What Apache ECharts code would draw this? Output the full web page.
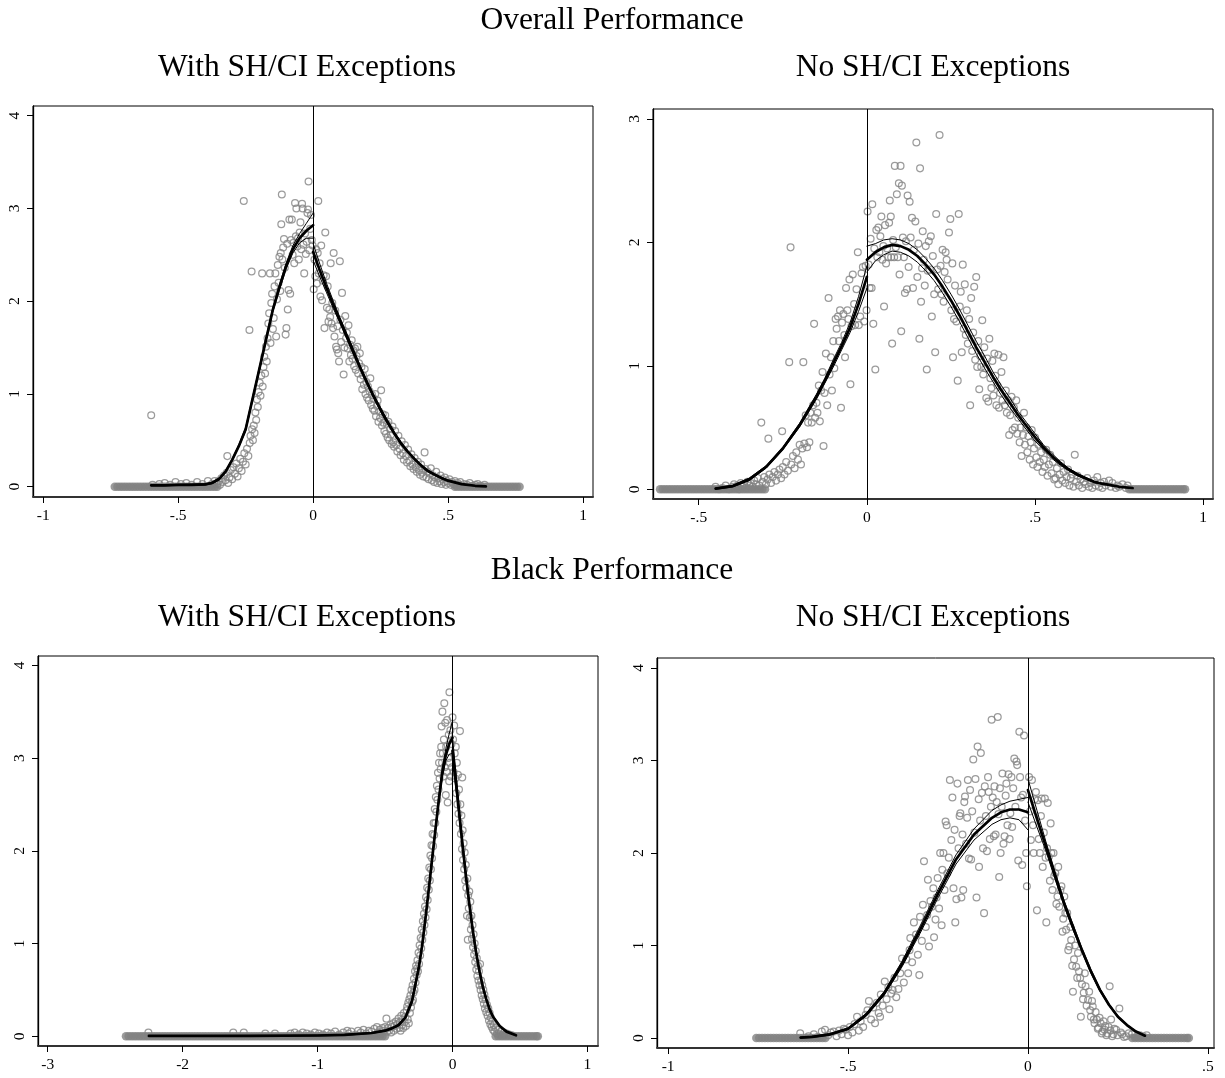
<!DOCTYPE html>
<html>
<head>
<meta charset="utf-8">
<script src="https://cdn.jsdelivr.net/npm/echarts@6/dist/echarts.min.js"></script>
<style>
html,body{margin:0;padding:0;background:#fff}
#chart{width:1225px;height:1078px}
</style>
</head>
<body>
<div id="chart"></div>
<script>
// ---------- Overall performance, with SH/CI exceptions ----------
const p1Zero = [-0.735,-0.725,-0.715,-0.705,-0.695,-0.685,-0.675,-0.665,-0.655,-0.645,-0.635,-0.625,-0.615,-0.605,-0.595,-0.585,-0.575,-0.565,-0.555,-0.545,-0.535,-0.525,-0.515,-0.505,-0.495,-0.485,-0.475,-0.465,-0.455,-0.445,-0.435,-0.425,-0.415,-0.405,-0.395,-0.385,-0.375,-0.365,-0.355,
  0.525,0.535,0.545,0.555,0.565,0.575,0.585,0.595,0.605,0.615,0.625,0.635,0.645,0.655,0.665,0.675,0.685,0.695,0.705,0.715,0.725,0.735,0.745,0.755,0.765];
const p1Bins = [
  [-0.6,0.77],[-0.595,0.02],[-0.57,0.03],[-0.55,0.04],[-0.53,0.02],[-0.51,0.05],[-0.49,0.03],[-0.47,0.04],[-0.45,0.02],[-0.43,0.05],[-0.41,0.03],[-0.39,0.06],[-0.375,0.03],[-0.365,0.06],[-0.355,0.03],[-0.35,0.06],[-0.345,0.02],[-0.34,0.09],[-0.335,0.05],[-0.33,0.12],[-0.325,0.07],[-0.32,0.15],[-0.318,0.33],[-0.315,0.04],[-0.31,0.1],[-0.305,0.18],[-0.3,0.08],[-0.295,0.21],[-0.29,0.14],[-0.285,0.25],[-0.28,0.11],[-0.275,0.2],[-0.27,0.3],[-0.265,0.17],[-0.26,0.27],[-0.257,3.08],[-0.255,0.36],[-0.25,0.24],[-0.245,0.41],[-0.24,0.33],[-0.236,1.69],[-0.235,0.47],[-0.232,0.55],[-0.228,2.32],[-0.226,0.62],[-0.223,0.5],[-0.22,0.66],[-0.217,0.58],[-0.214,0.8],[-0.211,0.72],[-0.208,0.94],[-0.205,0.86],[-0.202,1.02],[-0.198,1.12],[-0.195,0.98],[-0.192,1.2],[-0.189,2.3],[-0.187,1.08],[-0.184,1.29],[-0.181,1.4],[-0.178,1.22],[-0.175,1.51],[-0.172,1.35],[-0.169,1.6],[-0.166,1.76],[-0.163,1.87],[-0.16,2.3],[-0.158,1.55],[-0.155,1.98],[-0.152,2.08],[-0.149,1.7],[-0.146,1.82],[-0.143,2.16],[-0.14,2.3],[-0.137,1.62],[-0.134,2.02],[-0.131,2.39],[-0.128,2.2],[-0.125,2.48],[-0.122,2.11],[-0.12,2.52],[-0.118,2.83],[-0.116,3.15],[-0.114,2.45],[-0.111,2.58],[-0.108,2.67],[-0.105,2.36],[-0.102,1.64],[-0.099,1.71],[-0.096,2.62],[-0.094,1.91],[-0.091,2.12],[-0.088,2.88],[-0.085,2.08],[-0.082,2.66],[-0.079,2.88],[-0.076,2.5],[-0.073,2.63],[-0.07,2.41],[-0.067,3.06],[-0.064,2.7],[-0.062,3.0],[-0.059,2.59],[-0.056,2.68],[-0.053,2.45],[-0.05,2.74],[-0.047,2.85],[-0.044,2.56],[-0.041,3.05],[-0.039,3.0],[-0.036,2.61],[-0.033,2.3],[-0.03,2.73],[-0.027,2.51],[-0.024,2.64],[-0.021,2.95],[-0.019,2.99],[-0.017,3.29],[-0.014,2.55],[-0.011,2.78],[-0.008,2.93],[-0.005,2.66],[-0.002,2.6],
  [0.002,2.13],[0.005,2.45],[0.008,2.27],[0.011,2.56],[0.014,2.19],[0.017,2.52],[0.019,3.08],[0.021,2.3],[0.024,2.41],[0.027,2.05],[0.03,2.6],[0.033,2.01],[0.036,2.22],[0.039,2.28],[0.042,1.71],[0.045,2.74],[0.048,2.27],[0.051,1.93],[0.054,2.16],[0.057,1.78],[0.06,1.91],[0.063,1.83],[0.065,2.41],[0.068,1.76],[0.071,1.98],[0.074,1.71],[0.076,2.52],[0.079,1.62],[0.082,1.9],[0.085,1.51],[0.088,1.48],[0.09,1.73],[0.093,1.44],[0.096,1.35],[0.099,2.43],
  [0.101,1.8],[0.104,1.56],[0.107,2.09],[0.11,1.69],[0.113,1.21],[0.116,1.5],[0.119,1.84],[0.122,1.6],[0.125,1.66],[0.128,1.49],[0.131,1.74],[0.134,1.35],[0.137,1.53],[0.14,1.42],[0.143,1.58],[0.146,1.38],[0.149,1.47],[0.152,1.3],[0.155,1.49],[0.158,1.26],[0.161,1.41],[0.164,1.51],[0.167,1.22],[0.17,1.33],[0.173,1.44],[0.176,1.16],[0.179,1.29],[0.182,1.05],[0.185,1.2],[0.188,1.1],[0.191,1.27],[0.194,1.0],[0.197,1.13],[0.2,0.96],[0.203,1.08],[0.206,0.93],[0.209,1.03],[0.212,1.17],[0.215,0.88],[0.218,0.99],[0.221,0.84],[0.224,0.95],[0.227,0.82],[0.23,1.0],[0.233,0.76],[0.236,0.87],[0.239,0.93],[0.242,0.7],[0.245,0.81],[0.248,0.74],[0.252,1.04],[0.255,0.66],[0.258,0.78],[0.261,0.69],[0.264,0.6],[0.267,0.77],[0.27,0.57],[0.273,0.68],[0.276,0.53],[0.279,0.7],[0.282,0.5],[0.285,0.62],[0.288,0.56],[0.291,0.46],[0.294,0.65],[0.297,0.48],[0.3,0.43],[0.304,0.6],[0.308,0.45],[0.312,0.38],[0.316,0.55],[0.32,0.41],[0.324,0.34],[0.328,0.49],[0.332,0.36],[0.336,0.29],[0.34,0.45],[0.344,0.33],[0.348,0.26],[0.352,0.4],[0.356,0.28],[0.36,0.22],[0.364,0.35],[0.368,0.24],[0.372,0.19],[0.376,0.31],[0.38,0.21],[0.384,0.16],[0.388,0.27],[0.392,0.18],[0.396,0.13],[0.4,0.24],[0.404,0.15],[0.408,0.11],[0.413,0.37],[0.416,0.19],[0.42,0.1],[0.424,0.16],[0.428,0.08],[0.432,0.14],[0.436,0.2],[0.44,0.07],[0.444,0.12],[0.448,0.05],[0.452,0.1],[0.456,0.16],[0.46,0.04],[0.464,0.09],[0.468,0.06],[0.472,0.12],[0.476,0.03],[0.48,0.08],[0.484,0.05],[0.488,0.1],[0.492,0.02],[0.496,0.06],[0.5,0.04],[0.505,0.08],[0.51,0.02],[0.515,0.05],[0.52,0.03],[0.525,0.06],[0.53,0.01],[0.535,0.04],[0.54,0.02],[0.545,0.05],[0.55,0.01],[0.56,0.03],[0.57,0.02],[0.58,0.04],[0.59,0.01],[0.6,0.02],[0.61,0.03],[0.62,0.01],[0.635,0.02]
];
// fitted density rows: [x, estimate, lower bound, upper bound]
const p1FitLeft = [
  [-0.6,0.015,0.01,0.02],[-0.55,0.015,0.01,0.02],[-0.5,0.02,0.015,0.025],[-0.45,0.02,0.015,0.028],[-0.4,0.025,0.018,0.032],[-0.375,0.04,0.032,0.048],[-0.35,0.08,0.07,0.09],[-0.325,0.16,0.15,0.17],[-0.3,0.29,0.28,0.3],[-0.275,0.44,0.43,0.455],[-0.25,0.62,0.6,0.64],[-0.225,0.94,0.92,0.96],[-0.2,1.26,1.24,1.28],[-0.175,1.58,1.56,1.6],[-0.15,1.9,1.88,1.92],[-0.125,2.15,2.12,2.18],[-0.1,2.38,2.35,2.41],[-0.075,2.56,2.52,2.6],[-0.05,2.68,2.63,2.73],[-0.025,2.76,2.68,2.84],[0,2.82,2.68,2.95]
];
const p1FitRight = [
  [0,2.53,2.44,2.62],[0.025,2.33,2.26,2.4],[0.05,2.14,2.09,2.19],[0.075,1.96,1.92,2.0],[0.1,1.79,1.76,1.82],[0.125,1.62,1.59,1.65],[0.15,1.45,1.42,1.48],[0.175,1.28,1.26,1.3],[0.2,1.12,1.1,1.14],[0.225,0.97,0.95,0.99],[0.25,0.83,0.81,0.85],[0.275,0.7,0.68,0.72],[0.3,0.58,0.565,0.595],[0.325,0.47,0.455,0.485],[0.35,0.38,0.37,0.39],[0.375,0.3,0.29,0.31],[0.4,0.23,0.22,0.24],[0.425,0.17,0.16,0.18],[0.45,0.13,0.12,0.14],[0.475,0.095,0.088,0.102],[0.5,0.065,0.06,0.07],[0.55,0.028,0.025,0.031],[0.6,0.01,0.008,0.012],[0.64,0.004,0.003,0.005]
];
const p1XTicks = [-1,-0.5,0,0.5,1];
const p1YTicks = [0,1,2,3,4];

// ---------- Overall performance, no SH/CI exceptions ----------
const p2Zero = [-0.615,-0.607,-0.599,-0.591,-0.583,-0.575,-0.567,-0.559,-0.551,-0.543,-0.535,-0.527,-0.519,-0.511,-0.503,-0.495,-0.487,-0.479,-0.471,-0.463,-0.455,-0.447,-0.439,-0.431,-0.423,-0.415,-0.407,-0.399,-0.391,-0.383,-0.375,-0.367,-0.359,-0.351,-0.343,-0.335,-0.327,-0.319,-0.311,-0.303,
  0.78,0.788,0.796,0.804,0.812,0.82,0.828,0.836,0.844,0.852,0.86,0.868,0.876,0.884,0.892,0.9,0.908,0.916,0.924,0.932,0.94,0.946];
const p2Bins = [
  [-0.45,0.02],[-0.44,0.0],[-0.43,0.01],[-0.42,0.03],[-0.41,0.0],[-0.4,0.02],[-0.395,0.04],[-0.39,0.01],[-0.385,0.03],[-0.38,0.0],[-0.375,0.05],[-0.37,0.02],[-0.365,0.04],[-0.36,0.01],[-0.355,0.06],[-0.35,0.03],[-0.345,0.05],[-0.34,0.02],[-0.335,0.07],[-0.33,0.04],[-0.325,0.09],[-0.32,0.03],[-0.314,0.54],[-0.31,0.06],[-0.305,0.1],[-0.3,0.04],[-0.295,0.08],[-0.293,0.41],[-0.29,0.12],[-0.285,0.05],[-0.28,0.1],[-0.275,0.14],[-0.27,0.07],[-0.265,0.12],[-0.26,0.16],[-0.255,0.09],[-0.252,0.47],[-0.25,0.18],[-0.245,0.12],[-0.24,0.22],[-0.235,0.15],[-0.231,1.03],[-0.227,1.96],[-0.225,0.2],[-0.22,0.27],[-0.215,0.17],[-0.21,0.3],[-0.205,0.24],[-0.2,0.36],[-0.196,0.2],[-0.192,0.33],[-0.189,1.03],[-0.186,0.37],[-0.182,0.6],[-0.178,0.34],[-0.175,0.54],[-0.171,0.38],[-0.168,0.62],[-0.164,0.54],[-0.16,0.68],[-0.157,1.34],[-0.154,0.58],[-0.15,0.7],[-0.147,0.62],[-0.143,0.84],[-0.14,0.55],[-0.136,0.8],[-0.132,0.95],[-0.129,0.35],[-0.126,0.78],[-0.122,1.1],[-0.118,0.68],[-0.114,1.55],[-0.111,0.93],[-0.107,1.07],[-0.104,0.8],[-0.1,1.2],[-0.097,0.98],[-0.093,1.38],[-0.09,1.3],[-0.086,1.4],[-0.083,1.2],[-0.08,1.45],[-0.077,0.66],[-0.074,1.35],[-0.07,1.42],[-0.067,1.25],[-0.065,1.07],[-0.062,1.63],[-0.058,1.45],[-0.055,1.38],[-0.052,1.7],[-0.049,0.85],[-0.046,1.32],[-0.042,1.74],[-0.038,1.5],[-0.035,1.33],[-0.031,1.62],[-0.027,1.92],[-0.024,1.33],[-0.02,1.4],[-0.016,1.75],[-0.012,1.8],[-0.008,1.36],[-0.004,1.81],[-0.001,1.45],
  [0.002,2.25],[0.005,1.82],[0.008,1.63],[0.011,2.03],[0.014,1.63],[0.016,2.31],[0.019,1.34],[0.022,1.95],[0.025,0.97],[0.028,2.1],[0.031,1.88],[0.034,2.12],[0.037,1.92],[0.04,2.05],[0.043,2.21],[0.046,1.86],[0.049,1.97],[0.051,1.48],[0.054,2.14],[0.057,1.83],[0.06,1.95],[0.063,1.88],[0.066,2.16],[0.068,2.34],[0.071,2.21],[0.072,1.88],[0.075,1.18],[0.078,2.02],[0.081,1.88],[0.083,2.62],[0.086,1.96],[0.089,2.39],[0.092,1.88],[0.095,2.48],[0.097,1.74],[0.1,2.62],[0.102,1.28],[0.104,2.46],[0.107,2.04],[0.11,1.88],[0.113,1.59],[0.116,2.01],[0.119,1.62],[0.121,2.38],[0.124,1.8],[0.127,2.33],[0.13,2.04],[0.134,2.2],[0.137,1.63],[0.14,1.94],[0.144,2.17],[0.147,2.81],[0.15,1.72],[0.153,1.99],[0.156,1.22],[0.158,2.6],[0.161,1.52],[0.164,1.79],[0.166,2.09],[0.169,1.86],[0.172,1.65],[0.175,1.97],[0.178,0.97],[0.181,1.77],[0.184,2.01],[0.187,1.78],[0.19,2.05],[0.193,1.4],[0.196,1.89],[0.2,1.58],[0.203,1.11],[0.206,2.23],[0.209,1.78],[0.212,1.62],[0.216,2.87],[0.219,1.81],[0.222,1.58],[0.225,1.94],[0.228,1.52],[0.231,1.76],[0.234,1.92],[0.237,1.86],[0.24,1.7],[0.244,2.08],[0.248,2.19],[0.251,1.45],[0.254,1.83],[0.256,1.07],[0.259,1.38],[0.262,1.65],[0.266,1.36],[0.27,0.88],[0.273,2.23],[0.276,1.48],[0.279,1.6],[0.282,1.11],[0.285,1.82],[0.288,1.3],[0.291,1.66],[0.294,1.25],[0.297,1.45],[0.3,1.18],[0.304,1.38],[0.307,0.68],[0.31,1.55],[0.313,1.12],[0.316,1.27],[0.319,1.64],[0.322,1.05],[0.325,1.72],[0.328,0.99],[0.331,1.2],[0.334,0.81],[0.337,1.08],[0.34,0.99],[0.343,1.37],[0.346,0.93],[0.349,1.15],[0.352,0.98],[0.355,0.74],[0.358,1.06],[0.361,0.71],[0.364,1.22],[0.367,0.9],[0.37,0.82],[0.373,1.04],[0.376,0.76],[0.379,1.1],[0.382,0.92],[0.385,0.68],[0.388,0.84],[0.391,1.09],[0.393,0.66],[0.396,0.78],[0.4,0.95],[0.403,0.72],[0.406,1.07],[0.41,0.68],[0.413,0.8],[0.416,0.62],[0.42,0.72],[0.423,0.44],[0.426,0.6],[0.43,0.75],[0.433,0.48],[0.437,0.66],[0.44,0.5],[0.444,0.72],[0.447,0.45],[0.45,0.58],[0.454,0.38],[0.457,0.5],[0.46,0.27],[0.464,0.44],[0.467,0.62],[0.47,0.36],[0.474,0.5],[0.477,0.3],[0.48,0.43],[0.484,0.24],[0.487,0.38],[0.49,0.48],[0.494,0.2],[0.497,0.33],[0.5,0.42],[0.504,0.26],[0.507,0.18],[0.51,0.36],[0.514,0.22],[0.518,0.3],[0.522,0.14],[0.526,0.24],[0.529,0.18],[0.533,0.32],[0.537,0.11],[0.541,0.2],[0.545,0.28],[0.549,0.13],[0.553,0.22],[0.557,0.08],[0.561,0.09],[0.565,0.17],[0.569,0.04],[0.573,0.12],[0.577,0.21],[0.581,0.07],[0.585,0.14],[0.59,0.05],[0.594,0.1],[0.598,0.16],[0.602,0.03],[0.606,0.09],[0.61,0.12],[0.614,0.02],[0.618,0.28],[0.622,0.06],[0.626,0.11],[0.63,0.03],[0.635,0.08],[0.64,0.01],[0.645,0.06],[0.65,0.04],[0.655,0.09],[0.66,0.02],[0.665,0.05],[0.67,0.01],[0.675,0.07],[0.68,0.03],[0.685,0.1],[0.69,0.02],[0.695,0.05],[0.7,0.01],[0.705,0.06],[0.71,0.03],[0.72,0.07],[0.725,0.02],[0.73,0.05],[0.74,0.01],[0.745,0.03],[0.75,0.02],[0.76,0.04],[0.77,0.01],[0.775,0.03]
];
const p2FitLeft = [
  [-0.45,0.005,0.0,0.01],[-0.4,0.025,0.018,0.032],[-0.35,0.08,0.07,0.09],[-0.3,0.18,0.17,0.19],[-0.25,0.33,0.32,0.34],[-0.2,0.52,0.505,0.535],[-0.15,0.75,0.73,0.77],[-0.125,0.88,0.86,0.9],[-0.1,1.02,0.99,1.05],[-0.075,1.16,1.13,1.19],[-0.05,1.31,1.27,1.35],[-0.025,1.5,1.44,1.56],[0,1.72,1.63,1.81]
];
const p2FitRight = [
  [0,1.86,1.76,1.97],[0.025,1.92,1.85,1.99],[0.05,1.96,1.9,2.02],[0.075,1.98,1.93,2.03],[0.1,1.97,1.92,2.02],[0.125,1.94,1.89,1.99],[0.15,1.89,1.84,1.94],[0.175,1.82,1.77,1.87],[0.2,1.74,1.69,1.79],[0.225,1.64,1.59,1.69],[0.25,1.53,1.48,1.58],[0.275,1.41,1.36,1.46],[0.3,1.28,1.23,1.33],[0.325,1.15,1.1,1.2],[0.35,1.03,0.98,1.08],[0.375,0.91,0.87,0.95],[0.4,0.8,0.76,0.84],[0.425,0.7,0.66,0.74],[0.45,0.6,0.57,0.63],[0.475,0.51,0.48,0.54],[0.5,0.42,0.39,0.45],[0.525,0.34,0.32,0.36],[0.55,0.27,0.25,0.29],[0.575,0.21,0.195,0.225],[0.6,0.16,0.15,0.17],[0.625,0.12,0.11,0.13],[0.65,0.09,0.083,0.097],[0.675,0.06,0.055,0.065],[0.7,0.045,0.041,0.049],[0.75,0.02,0.018,0.022],[0.79,0.01,0.009,0.011]
];
const p2XTicks = [-0.5,0,0.5,1];
const p2YTicks = [0,1,2,3];

// ---------- Black performance, with SH/CI exceptions ----------
const p3Zero = [-2.42,-2.4,-2.38,-2.36,-2.34,-2.32,-2.3,-2.28,-2.26,-2.24,-2.22,-2.2,-2.18,-2.16,-2.14,-2.12,-2.1,-2.08,-2.06,-2.04,-2.02,-2.0,-1.98,-1.96,-1.94,-1.92,-1.9,-1.88,-1.86,-1.84,-1.82,-1.8,-1.78,-1.76,-1.74,-1.72,-1.7,-1.68,-1.66,-1.64,-1.62,-1.6,-1.58,-1.56,-1.54,-1.52,-1.5,-1.48,-1.46,-1.44,-1.42,-1.4,-1.38,-1.36,-1.34,-1.32,-1.3,-1.28,-1.26,-1.24,-1.22,-1.2,-1.18,-1.16,-1.14,-1.12,-1.1,-1.08,-1.06,-1.04,-1.02,-1.0,-0.98,-0.96,-0.94,-0.92,-0.9,-0.88,-0.86,-0.84,-0.82,-0.8,-0.78,-0.76,-0.74,-0.72,-0.7,-0.68,-0.66,-0.64,-0.62,-0.6,-0.58,-0.56,-0.54,-0.52,-0.5,
  0.32,0.34,0.36,0.38,0.4,0.42,0.44,0.46,0.48,0.5,0.52,0.54,0.56,0.58,0.6,0.62,0.632];
const p3Bins = [
  [-2.254,0.04],[-1.625,0.04],[-1.547,0.04],[-1.388,0.03],[-1.316,0.03],[-1.2,0.03],[-1.17,0.04],[-1.14,0.02],[-1.11,0.04],[-1.08,0.03],[-1.05,0.02],[-1.02,0.04],[-0.99,0.03],[-0.96,0.02],[-0.93,0.04],[-0.9,0.03],[-0.87,0.05],[-0.84,0.02],[-0.81,0.04],[-0.78,0.06],[-0.77,0.03],[-0.75,0.05],[-0.72,0.02],[-0.7,0.06],[-0.68,0.04],[-0.66,0.07],[-0.64,0.03],[-0.62,0.06],[-0.6,0.05],[-0.58,0.08],[-0.56,0.1],[-0.55,0.04],[-0.54,0.07],[-0.53,0.03],[-0.52,0.09],[-0.51,0.06],
  [-0.5,0.1],[-0.49,0.19],[-0.485,0.05],[-0.48,0.09],[-0.47,0.06],[-0.46,0.12],[-0.455,0.04],[-0.45,0.1],[-0.44,0.14],[-0.435,0.06],[-0.43,0.11],[-0.42,0.16],[-0.415,0.08],[-0.41,0.13],[-0.4,0.19],[-0.395,0.09],[-0.39,0.15],[-0.385,0.06],[-0.38,0.22],[-0.375,0.12],[-0.37,0.18],[-0.365,0.09],[-0.36,0.25],[-0.355,0.15],[-0.35,0.21],[-0.345,0.11],[-0.34,0.28],[-0.336,0.32],[-0.332,0.18],[-0.328,0.36],[-0.324,0.14],[-0.32,0.4],[-0.316,0.25],[-0.312,0.44],[-0.308,0.31],[-0.304,0.5],[-0.3,0.37],[-0.296,0.55],[-0.293,0.39],[-0.29,0.47],[-0.286,0.62],[-0.282,0.5],[-0.278,0.7],[-0.274,0.58],[-0.27,0.76],[-0.266,0.66],[-0.263,0.73],[-0.26,0.82],[-0.256,0.7],[-0.252,0.9],[-0.248,0.78],[-0.244,0.98],[-0.24,0.87],[-0.236,1.06],[-0.232,0.95],[-0.228,1.15],[-0.224,1.04],[-0.22,1.24],[-0.216,1.12],[-0.212,1.32],[-0.208,1.2],[-0.204,1.4],[-0.2,1.28],[-0.196,1.5],[-0.192,1.37],[-0.188,1.6],[-0.184,1.47],[-0.18,1.7],[-0.176,1.58],[-0.172,1.82],[-0.168,1.68],[-0.164,1.95],[-0.16,1.8],[-0.156,2.06],[-0.152,1.92],[-0.148,2.18],[-0.144,2.05],[-0.14,2.3],[-0.136,2.17],[-0.132,2.45],[-0.128,2.3],[-0.124,2.58],[-0.12,2.42],[-0.116,2.7],[-0.112,2.55],[-0.108,2.84],[-0.104,2.66],[-0.1,2.95],[-0.096,2.78],[-0.092,3.05],[-0.088,2.88],[-0.084,3.12],[-0.081,3.34],[-0.078,2.95],[-0.075,3.5],[-0.072,3.05],[-0.068,2.8],[-0.064,3.2],[-0.061,3.59],[-0.058,2.9],[-0.054,3.38],[-0.05,2.6],[-0.047,3.12],[-0.043,2.85],[-0.04,3.41],[-0.036,2.52],[-0.032,3.0],[-0.028,3.25],[-0.025,2.75],[-0.023,3.71],[-0.02,2.95],[-0.016,3.3],[-0.012,2.8],[-0.008,3.15],[-0.004,2.9],[0,3.44],
  [0.004,3.2],[0.008,2.85],[0.012,3.35],[0.016,3.05],[0.02,2.78],[0.024,3.12],[0.028,2.62],[0.032,2.95],[0.036,2.5],[0.04,2.82],[0.044,2.4],[0.048,2.66],[0.052,2.3],[0.055,3.29],[0.058,2.5],[0.062,2.18],[0.066,2.38],[0.07,2.02],[0.072,2.79],[0.075,2.22],[0.078,1.9],[0.082,2.08],[0.086,1.8],[0.09,1.98],[0.094,1.68],[0.098,1.85],[0.102,1.6],[0.107,1.3],[0.11,1.7],[0.113,1.04],[0.116,1.52],[0.12,1.38],[0.124,1.56],[0.128,1.28],[0.132,1.45],[0.136,1.15],[0.14,1.3],[0.144,1.05],[0.148,1.2],[0.152,0.96],[0.156,1.1],[0.16,0.88],[0.164,1.0],[0.168,0.8],[0.172,0.92],[0.176,0.72],[0.18,0.84],[0.184,0.65],[0.188,0.76],[0.192,0.6],[0.196,0.7],[0.2,0.55],[0.204,0.78],[0.208,0.5],[0.212,0.6],[0.216,0.44],[0.22,0.55],[0.224,0.4],[0.228,0.5],[0.232,0.35],[0.236,0.45],[0.24,0.3],[0.245,0.4],[0.25,0.26],[0.255,0.34],[0.26,0.22],[0.265,0.3],[0.27,0.17],[0.275,0.25],[0.28,0.13],[0.285,0.2],[0.29,0.1],[0.295,0.16],[0.3,0.07],[0.305,0.12],[0.31,0.05],[0.32,0.09],[0.33,0.03],[0.34,0.07],[0.35,0.02],[0.36,0.05],[0.37,0.01],[0.38,0.04],[0.39,0.02],[0.4,0.03],[0.42,0.02],[0.44,0.01]
];
const p3FitLeft = [
  [-2.25,0.004,0.0,0.008],[-2.0,0.004,0.0,0.008],[-1.5,0.005,0.001,0.009],[-1.0,0.008,0.004,0.012],[-0.8,0.015,0.01,0.02],[-0.6,0.035,0.03,0.04],[-0.5,0.06,0.055,0.065],[-0.45,0.085,0.08,0.09],[-0.4,0.12,0.11,0.13],[-0.35,0.2,0.19,0.21],[-0.3,0.38,0.36,0.4],[-0.25,0.74,0.72,0.76],[-0.225,0.98,0.96,1.0],[-0.2,1.28,1.26,1.3],[-0.175,1.6,1.58,1.62],[-0.15,1.93,1.9,1.96],[-0.125,2.25,2.22,2.28],[-0.1,2.57,2.53,2.61],[-0.075,2.85,2.8,2.9],[-0.05,3.03,2.97,3.1],[-0.025,3.15,3.04,3.26],[0,3.22,3.05,3.4]
];
const p3FitRight = [
  [0,3.08,2.95,3.22],[0.025,2.75,2.66,2.84],[0.05,2.4,2.34,2.46],[0.075,2.05,2.0,2.1],[0.1,1.72,1.68,1.76],[0.125,1.42,1.39,1.45],[0.15,1.14,1.11,1.17],[0.175,0.9,0.88,0.92],[0.2,0.7,0.68,0.72],[0.225,0.53,0.515,0.545],[0.25,0.4,0.39,0.41],[0.275,0.29,0.28,0.3],[0.3,0.21,0.2,0.22],[0.35,0.11,0.105,0.115],[0.4,0.05,0.046,0.054],[0.47,0.01,0.008,0.012]
];
const p3XTicks = [-3,-2,-1,0,1];
const p3YTicks = [0,1,2,3,4];

// ---------- Black performance, no SH/CI exceptions ----------
const p4Zero = [-0.755,-0.747,-0.739,-0.731,-0.723,-0.715,-0.707,-0.699,-0.691,-0.683,-0.675,-0.667,-0.659,-0.651,-0.643,-0.635,-0.627,-0.619,-0.611,-0.603,-0.595,-0.587,-0.579,-0.571,-0.563,
  0.29,0.298,0.306,0.314,0.322,0.33,0.338,0.346,0.354,0.362,0.37,0.378,0.386,0.394,0.402,0.41,0.418,0.426,0.434,0.442,0.447];
const p4Bins = [
  [-0.633,0.05],[-0.61,0.02],[-0.595,0.04],[-0.585,0.01],[-0.573,0.07],[-0.564,0.09],[-0.555,0.03],[-0.548,0.06],[-0.54,0.07],[-0.532,0.02],[-0.525,0.08],[-0.518,0.04],[-0.512,0.1],[-0.507,0.09],[-0.5,0.03],[-0.495,0.12],[-0.488,0.06],[-0.482,0.15],[-0.475,0.23],[-0.47,0.08],[-0.465,0.18],[-0.458,0.12],[-0.451,0.25],[-0.446,0.3],[-0.442,0.4],[-0.436,0.2],[-0.43,0.33],[-0.425,0.16],[-0.42,0.38],[-0.415,0.27],[-0.411,0.23],[-0.409,0.47],[-0.404,0.35],[-0.398,0.61],[-0.393,0.42],[-0.388,0.55],[-0.385,0.31],[-0.38,0.48],[-0.376,0.52],[-0.371,0.65],[-0.366,0.44],[-0.36,0.53],[-0.355,0.7],[-0.35,0.86],[-0.345,0.6],[-0.338,0.85],[-0.333,0.7],[-0.329,0.95],[-0.327,1.08],[-0.322,0.82],[-0.317,1.25],[-0.311,1.12],[-0.306,0.9],[-0.302,0.68],[-0.3,1.31],[-0.295,1.05],[-0.292,1.44],[-0.289,1.91],[-0.284,1.2],[-0.28,1.33],[-0.278,1.71],[-0.275,0.99],[-0.271,1.48],[-0.267,1.42],[-0.263,1.62],[-0.261,1.09],[-0.257,1.28],[-0.254,1.52],[-0.251,1.73],[-0.247,1.4],[-0.244,2.0],[-0.24,1.22],[-0.238,1.82],[-0.235,2.0],[-0.232,1.6],[-0.229,2.34],[-0.226,2.3],[-0.224,1.78],[-0.22,1.95],[-0.217,2.79],[-0.213,2.14],[-0.21,2.6],[-0.207,1.62],[-0.204,2.25],[-0.202,1.25],[-0.199,1.5],[-0.196,2.75],[-0.193,2.05],[-0.19,2.4],[-0.188,2.43],[-0.185,1.52],[-0.182,2.2],[-0.18,1.6],[-0.177,2.55],[-0.175,2.61],[-0.172,2.1],[-0.169,2.38],[-0.167,2.79],[-0.164,1.94],[-0.161,2.68],[-0.158,1.93],[-0.155,2.45],[-0.152,3.01],[-0.149,2.22],[-0.146,2.8],[-0.143,1.52],[-0.14,3.15],[-0.137,2.58],[-0.136,1.85],[-0.133,2.35],[-0.131,3.08],[-0.128,2.65],[-0.125,2.05],[-0.122,1.35],[-0.12,2.72],[-0.117,2.4],[-0.114,2.02],[-0.111,2.82],[-0.109,2.66],[-0.106,2.15],[-0.103,2.5],[-0.101,3.44],[-0.098,2.6],[-0.095,2.18],[-0.093,2.72],[-0.09,2.2],[-0.087,2.55],[-0.084,3.47],[-0.082,2.42],[-0.08,1.74],[-0.078,2.7],[-0.076,2.0],[-0.073,2.5],[-0.071,2.86],[-0.068,2.1],[-0.065,2.18],[-0.062,2.62],[-0.06,2.75],[-0.057,2.3],[-0.054,2.85],[-0.051,2.15],[-0.049,2.43],[-0.046,2.82],[-0.044,2.28],[-0.041,2.7],[-0.038,3.02],[-0.035,2.5],[-0.032,2.99],[-0.03,2.95],[-0.027,1.92],[-0.024,3.31],[-0.022,2.82],[-0.019,2.6],[-0.016,1.87],[-0.014,2.63],[-0.011,3.27],[-0.008,2.35],[-0.005,2.0],[-0.003,1.64],
  [0.003,2.82],[0.006,2.45],[0.008,2.14],[0.011,2.79],[0.014,2.3],[0.016,2.0],[0.019,2.58],[0.022,2.66],[0.025,1.38],[0.027,2.57],[0.03,2.15],[0.033,2.0],[0.036,2.4],[0.038,2.59],[0.041,1.85],[0.044,2.22],[0.047,2.59],[0.049,1.95],[0.051,1.25],[0.053,2.05],[0.055,2.54],[0.058,1.96],[0.061,1.7],[0.063,2.32],[0.065,2.0],[0.068,1.6],[0.071,2.0],[0.073,1.75],[0.076,1.78],[0.079,1.45],[0.082,1.53],[0.084,1.85],[0.087,1.42],[0.09,1.6],[0.093,1.64],[0.096,1.15],[0.098,1.29],[0.101,1.53],[0.104,1.35],[0.106,1.17],[0.109,1.35],[0.112,0.95],[0.115,0.99],[0.118,1.2],[0.12,1.06],[0.123,0.78],[0.125,0.5],[0.128,0.85],[0.131,1.0],[0.134,0.77],[0.137,0.65],[0.139,0.92],[0.142,0.72],[0.145,0.65],[0.147,0.23],[0.15,0.58],[0.153,0.42],[0.155,0.49],[0.158,0.7],[0.16,0.56],[0.163,0.35],[0.167,0.41],[0.17,0.5],[0.173,0.3],[0.175,0.23],[0.178,0.4],[0.18,0.34],[0.183,0.2],[0.185,0.16],[0.188,0.28],[0.191,0.2],[0.194,0.1],[0.196,0.11],[0.199,0.22],[0.202,0.16],[0.205,0.05],[0.207,0.07],[0.21,0.18],[0.213,0.09],[0.215,0.13],[0.218,0.03],[0.221,0.05],[0.224,0.12],[0.227,0.56],[0.229,0.08],[0.231,0.2],[0.234,0.02],[0.237,0.04],[0.24,0.1],[0.245,0.09],[0.249,0.03],[0.254,0.32],[0.258,0.06],[0.262,0.04],[0.267,0.01],[0.273,0.02],[0.28,0.05],[0.289,0.04],[0.3,0.01],[0.311,0.03],[0.32,0.02],[0.33,0.03]
];
const p4FitLeft = [
  [-0.632,0.005,0.0,0.01],[-0.6,0.012,0.006,0.018],[-0.55,0.04,0.032,0.048],[-0.5,0.1,0.09,0.11],[-0.45,0.25,0.235,0.265],[-0.4,0.48,0.46,0.5],[-0.35,0.8,0.77,0.83],[-0.3,1.17,1.13,1.21],[-0.25,1.56,1.515,1.605],[-0.2,1.93,1.88,1.98],[-0.15,2.2,2.14,2.26],[-0.1,2.38,2.31,2.46],[-0.075,2.44,2.36,2.52],[-0.05,2.47,2.38,2.56],[-0.025,2.47,2.36,2.58],[0,2.44,2.25,2.6]
];
const p4FitRight = [
  [0,2.68,2.55,2.8],[0.025,2.37,2.28,2.46],[0.05,2.07,2.02,2.12],[0.075,1.76,1.72,1.8],[0.1,1.46,1.43,1.49],[0.125,1.2,1.17,1.23],[0.15,0.95,0.93,0.97],[0.175,0.72,0.7,0.74],[0.2,0.52,0.505,0.535],[0.225,0.36,0.35,0.37],[0.25,0.23,0.22,0.24],[0.275,0.14,0.133,0.147],[0.3,0.07,0.065,0.075],[0.325,0.025,0.022,0.028]
];
const p4XTicks = [-1,-0.5,0,0.5];
const p4YTicks = [0,1,2,3,4];

const sectionTitles = ['Overall Performance', 'Black Performance'];
const panelTitles = ['With SH/CI Exceptions', 'No SH/CI Exceptions', 'With SH/CI Exceptions', 'No SH/CI Exceptions'];

// ---------- layout ----------
const SERIF = '"Liberation Serif", "Times New Roman", serif';
const GRAY = '#828282';
const panels = [
  { bins: p1Bins, zero: p1Zero, left: p1FitLeft, right: p1FitRight, xt: p1XTicks, yt: p1YTicks,
    grid: { left: 33, top: 106, width: 560, height: 391 }, x: [-1.038, 1.037], y: [-0.111, 4.105] },
  { bins: p2Bins, zero: p2Zero, left: p2FitLeft, right: p2FitRight, xt: p2XTicks, yt: p2YTicks,
    grid: { left: 653, top: 109, width: 560, height: 390 }, x: [-0.636, 1.029], y: [-0.079, 3.081] },
  { bins: p3Bins, zero: p3Zero, left: p3FitLeft, right: p3FitRight, xt: p3XTicks, yt: p3YTicks,
    grid: { left: 38, top: 656, width: 560, height: 390 }, x: [-3.072, 1.078], y: [-0.105, 4.10] },
  { bins: p4Bins, zero: p4Zero, left: p4FitLeft, right: p4FitRight, xt: p4XTicks, yt: p4YTicks,
    grid: { left: 657, top: 658, width: 557, height: 390 }, x: [-1.031, 0.517], y: [-0.108, 4.108] }
];

// Stata-style tick labels: drop the leading zero (".5", "-.5")
const fmt = v => String(v).replace(/^(-?)0\./, '$1.');

const grids = [], xAxes = [], yAxes = [], series = [];
panels.forEach((p, i) => {
  grids.push(Object.assign({ show: true, borderColor: '#000', borderWidth: 1, backgroundColor: 'transparent' }, p.grid));
  xAxes.push({
    gridIndex: i, type: 'value', min: p.x[0], max: p.x[1],
    axisLine: { show: true, onZero: false, lineStyle: { color: '#333', width: 2 } },
    axisTick: { show: true, length: 6, customValues: p.xt, lineStyle: { color: '#000', width: 1 } },
    axisLabel: { customValues: p.xt, formatter: fmt, color: '#000', fontFamily: SERIF, fontSize: 15.5, margin: 11 },
    splitLine: { show: false }
  });
  yAxes.push({
    gridIndex: i, type: 'value', min: p.y[0], max: p.y[1],
    axisLine: { show: true, onZero: false, lineStyle: { color: '#000', width: 1.3 } },
    axisTick: { show: true, length: 6, customValues: p.yt, lineStyle: { color: '#000', width: 1 } },
    axisLabel: { customValues: p.yt, formatter: fmt, rotate: 90, color: '#000', fontFamily: SERIF, fontSize: 15.5, margin: 10 },
    splitLine: { show: false }
  });
  // bins with zero density form a solid band along the axis
  series.push({
    type: 'scatter', xAxisIndex: i, yAxisIndex: i, z: 2,
    data: p.zero.map(x => [x, 0]), symbol: 'circle', symbolSize: 8.5,
    itemStyle: { color: GRAY }, silent: true
  });
  series.push({
    type: 'scatter', xAxisIndex: i, yAxisIndex: i, z: 2,
    data: p.bins, symbol: 'circle', symbolSize: 6.8,
    itemStyle: { color: 'rgba(0,0,0,0)', borderColor: GRAY, borderWidth: 1.25 }, silent: true
  });
  [p.left, p.right].forEach((fit, k) => {
    [[2, 1], [3, 1], [1, 2.7]].forEach(([col, w]) => {
      const s = {
        type: 'line', xAxisIndex: i, yAxisIndex: i, z: 4,
        data: fit.map(r => [r[0], r[col]]), showSymbol: false, symbol: 'none',
        smooth: false,
        lineStyle: { color: '#000', width: w, join: 'round', cap: 'round' }, silent: true
      };
      if (k === 0 && col === 1) {
        s.markLine = {
          silent: true, symbol: ['none', 'none'], label: { show: false },
          lineStyle: { color: '#000', width: 1, type: 'solid' },
          data: [{ xAxis: 0 }]
        };
      }
      series.push(s);
    });
  });
});

const textEl = (t, x, y) => ({
  type: 'text', x: x, y: y, silent: true,
  style: { text: t, font: '31.5px ' + SERIF, fill: '#000', align: 'center', verticalAlign: 'middle', textAlign: 'center', textVerticalAlign: 'middle' }
});

const chart = echarts.init(document.getElementById('chart'), null, { renderer: 'canvas' });
chart.setOption({
  animation: false,
  backgroundColor: '#fff',
  grid: grids, xAxis: xAxes, yAxis: yAxes, series: series,
  graphic: [
    textEl(sectionTitles[0], 612, 21),
    textEl(panelTitles[0], 307, 67.5),
    textEl(panelTitles[1], 933, 67.5),
    textEl(sectionTitles[1], 612, 571),
    textEl(panelTitles[2], 307, 617.5),
    textEl(panelTitles[3], 933, 617.5)
  ]
});
</script>
</body>
</html>
